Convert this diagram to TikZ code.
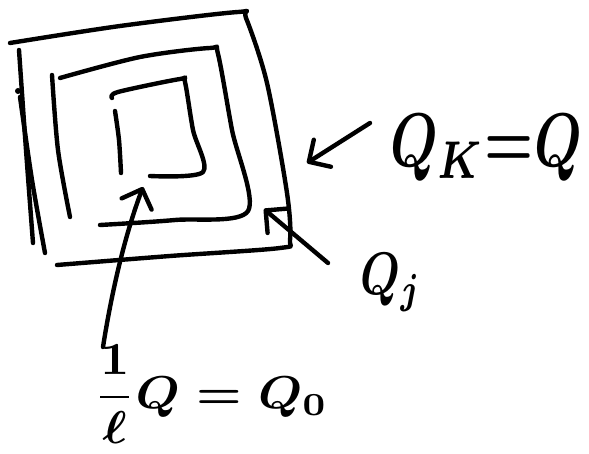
\documentclass[tikz,border=0pt]{standalone}
\usetikzlibrary{arrows.meta}
\newcommand\handtext[3]{{\boldmath\scalebox{#1}[#2]{#3}}}
\begin{document}
\begin{tikzpicture}[x=1pt,y=-1pt,
  pen/.style={line width=4.4pt,line cap=round,line join=round},
  arr/.style={pen,-{Straight Barb[length=16pt,width=32pt,line cap=round,line join=round]}},
  lbl/.style={inner sep=0pt}]
\useasboundingbox (0,0) rectangle (589,454);
% outer square Q_K
\draw[pen] plot[smooth,tension=0.5] coordinates {(10,43) (120,26) (238,12) (246,18) (267,83) (287,193) (290,240) (280,248) (170,256) (57,265)};
\draw[pen] plot[smooth,tension=0.5] coordinates {(19,50) (26,150) (33,243)};
\draw[pen] plot[smooth,tension=0.5] coordinates {(20,97) (32,180) (45,253)};
\fill (18,91) circle (3pt);
% middle square Q_j
\draw[pen] plot[smooth,tension=0.5] coordinates {(60,78) (140,57) (210,48) (218,54) (232,130) (248,211) (175,220) (100,225)};
\draw[pen] plot[smooth,tension=0.5] coordinates {(52,75) (58,150) (70,217)};
% inner square Q_0
\draw[pen] plot[smooth,tension=0.5] coordinates {(112,98) (118,92) (180,79) (185,82) (193,130) (203,172) (150,176)};
\draw[pen] plot[smooth,tension=0.5] coordinates {(115,111) (119,140) (121,173)};
% labels
\node[lbl] (qk) at (486,148) {\handtext{5.5}{7.6}{$Q_{K}{=}Q$}};
\node[lbl] (qj) at (391,283) {\handtext{4.6}{6}{$Q_j$}};
\node[lbl] (q0) at (211,394) {\handtext{5.1}{4.6}{$\displaystyle\frac{1}{\ell}Q = Q_0$}};
% arrows
\coordinate (tk) at (307,163);
\coordinate (tj) at (264,209);
\coordinate (t0) at (143,187);
\coordinate (sk) at (370,123);
\coordinate (sj) at (328,263);
\coordinate (s0) at (103,347);
\draw[arr] (sk) -- (tk);
\draw[arr] (sj) -- (tj);
\draw[arr] (s0) .. controls (112,290) and (125,235) .. (t0);
\end{tikzpicture}
\end{document}
